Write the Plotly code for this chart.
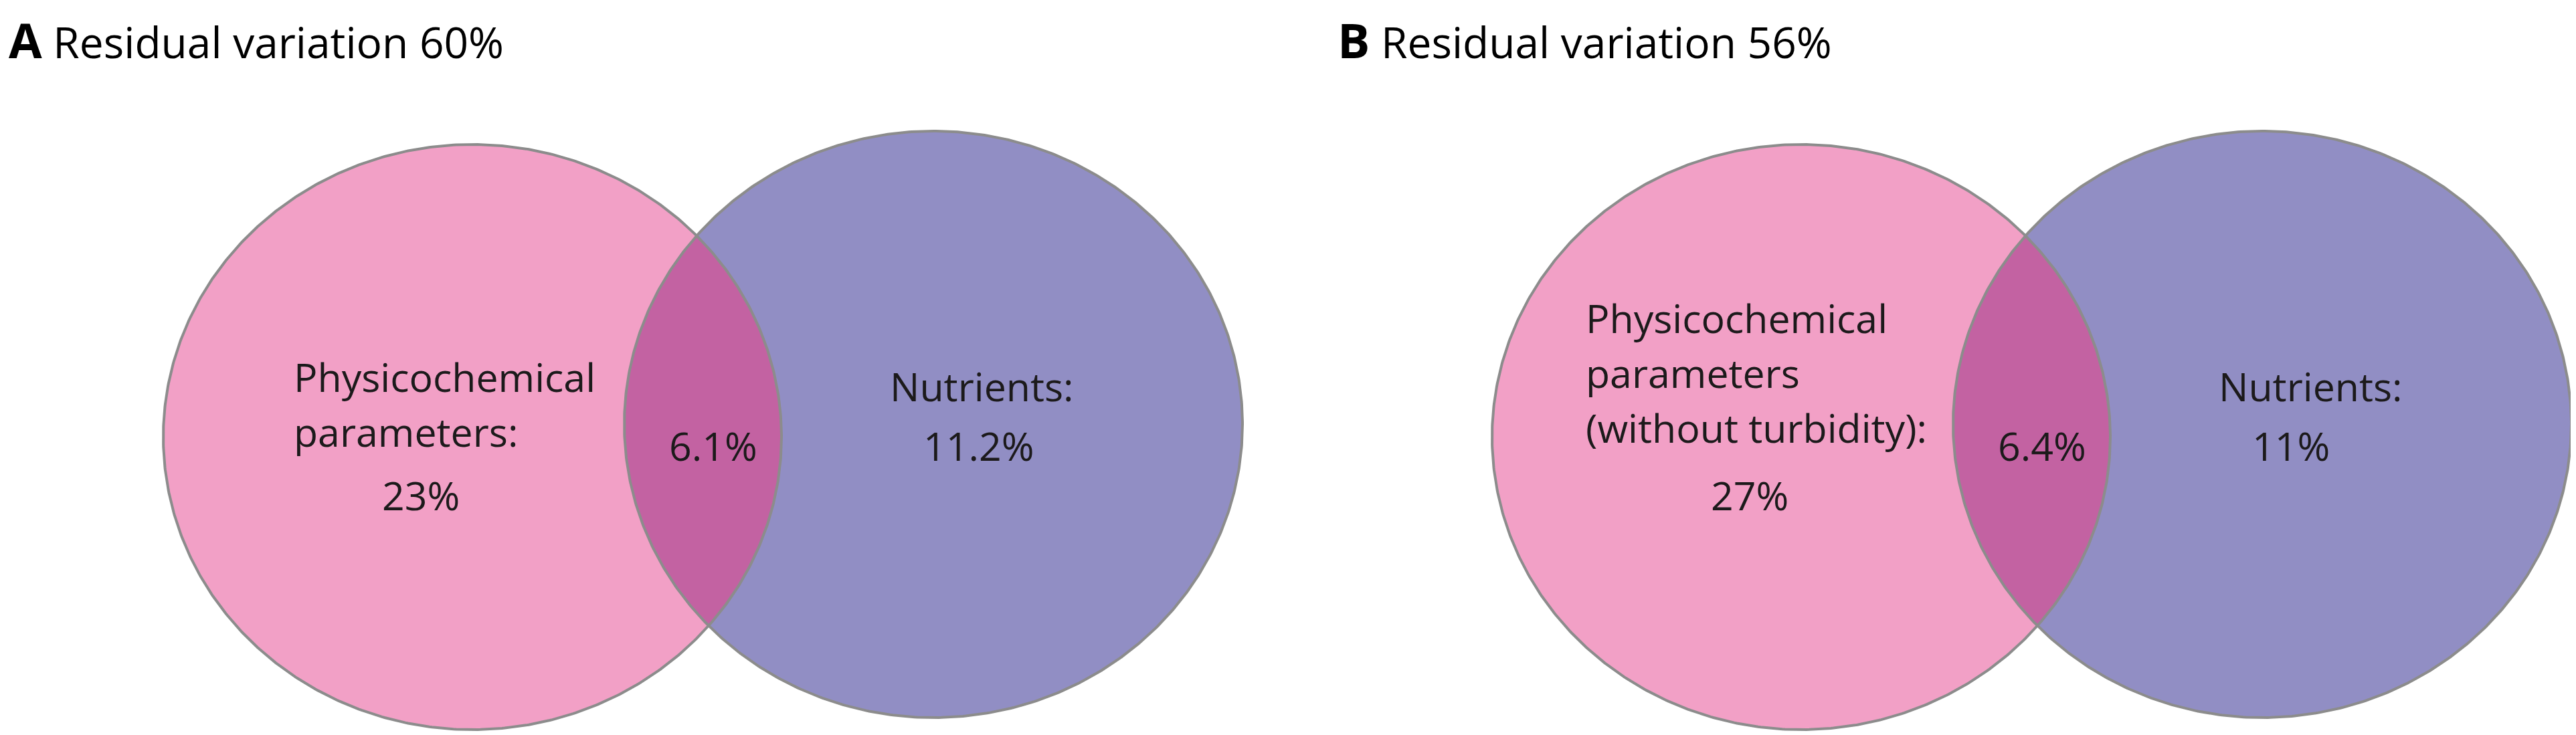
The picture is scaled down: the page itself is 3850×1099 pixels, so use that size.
import numpy as np
import plotly.graph_objects as go

# variance partitioning values (%)
panels = ["A", "B"]
residual = [60, 56]
physchem = [23, 27]
shared = [6.1, 6.4]
nutrients = [11.2, 11]
physchem_names = [["Physicochemical", "parameters:"],
                  ["Physicochemical", "parameters", "(without turbidity):"]]

W, H = 3850, 1099
PINK = "#F2A0C6"
BLUE = "#918EC4"
LENS = "#C362A2"
EDGE = "#8C8C8C"
INK = "#1c1a1b"
FONT = "Open Sans"

# panel geometry (pixels), panel B is shifted right
shift = [0, 1986]
pink_c, pink_r = (698, 645.5), (462, 437.5)
blue_c, blue_r = (1387, 626.5), (462, 438.5)

t = np.linspace(0, 2 * np.pi, 721)


def ellipse(c, r, th):
    return c[0] + r[0] * np.cos(th), c[1] + r[1] * np.sin(th)


def inside(x, y, c, r):
    return ((x - c[0]) / r[0]) ** 2 + ((y - c[1]) / r[1]) ** 2 <= 1


fig = go.Figure()
for i, p in enumerate(panels):
    pc = (pink_c[0] + shift[i], pink_c[1])
    bc = (blue_c[0] + shift[i], blue_c[1])
    px_, py_ = ellipse(pc, pink_r, t)
    bx_, by_ = ellipse(bc, blue_r, t)
    fig.add_scatter(x=px_, y=py_, fill="toself", fillcolor=PINK, mode="lines",
                    line=dict(width=0), hoverinfo="skip")
    fig.add_scatter(x=bx_, y=by_, fill="toself", fillcolor=BLUE, mode="lines",
                    line=dict(width=0), hoverinfo="skip")
    # lens = left arc of blue inside pink + right arc of pink inside blue
    tb = np.linspace(np.pi / 2, 3 * np.pi / 2, 1500)
    lbx, lby = ellipse(bc, blue_r, tb)
    kb = inside(lbx, lby, pc, pink_r)
    tp = np.linspace(-np.pi / 2, np.pi / 2, 1500)
    lpx, lpy = ellipse(pc, pink_r, tp)
    kp = inside(lpx, lpy, bc, blue_r)
    lx = np.concatenate([lbx[kb], lpx[kp]])
    ly = np.concatenate([lby[kb], lpy[kp]])
    fig.add_scatter(x=lx, y=ly, fill="toself", fillcolor=LENS, mode="lines",
                    line=dict(width=0), hoverinfo="skip")
    for xx, yy in [(px_, py_), (bx_, by_)]:
        fig.add_scatter(x=xx, y=yy, mode="lines", line=dict(color=EDGE, width=4),
                        hoverinfo="skip")

ann = []


def label(x, baseline, text, size=59, anchor="left"):
    ann.append(dict(x=x, y=baseline - 0.55 * size, text=text, showarrow=False,
                    xanchor=anchor, yanchor="middle",
                    font=dict(family=FONT, size=size, color=INK)))


for i, p in enumerate(panels):
    s = shift[i]
    # panel heading
    ann.append(dict(x=3 + s, y=0, text=f'<span style="font-size:72px"><b>{p}</b></span> '
                                       f"Residual variation {residual[i]}%",
                    showarrow=False, xanchor="left", yanchor="top",
                    font=dict(family=FONT, size=64, color="black")))
    names = physchem_names[i]
    base0 = 587 if i == 0 else 499
    for k, nm in enumerate(names):
        label(429 + s - (0 if i == 0 else 55), base0 + 82 * k, nm)
    label(621 + s, 764, f"{physchem[i]}%", anchor="center")
    label(1058 + s, 690, f"{shared[i]}%", anchor="center")
    label(1459 + s, 601, "Nutrients:", anchor="center")
    label(1370 + s, 690, f"{nutrients[i]}%")

fig.update_layout(
    width=W, height=H, showlegend=False,
    margin=dict(l=0, r=0, t=0, b=0),
    paper_bgcolor="white", plot_bgcolor="white",
    annotations=ann,
    xaxis=dict(range=[0, W], visible=False),
    yaxis=dict(range=[H, 0], visible=False),
)
fig.write_html("out.html")
